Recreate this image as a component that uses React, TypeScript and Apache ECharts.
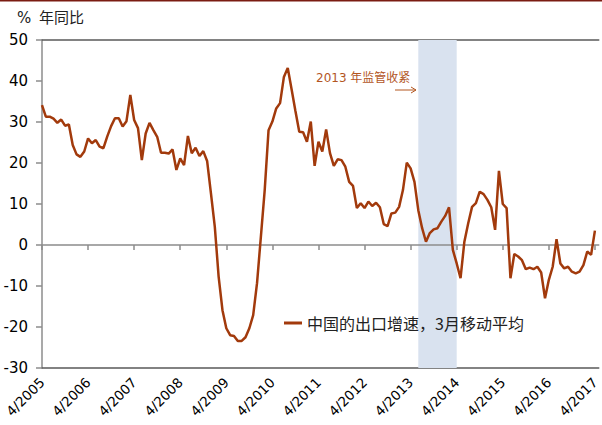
import React, { useEffect, useRef } from "react";
import * as echarts from "echarts";

// Monthly categories from 4/2005 to 5/2017 (axis runs slightly past 4/2017)
const START_YEAR = 2005;
const START_MONTH = 4;
const MONTH_COUNT = 146;
const months: string[] = [];
for (let k = 0; k < MONTH_COUNT; k++) {
  const m = ((START_MONTH - 1 + k) % 12) + 1;
  const y = START_YEAR + Math.floor((START_MONTH - 1 + k) / 12);
  months.push(`${m}/${y}`);
}

const seriesName = "中国的出口增速，3月移动平均";

// China export growth, % y/y, 3-month moving average (4/2005 .. 4/2017)
const exportGrowth: number[] = [
  34.1, 31.3, 31.3, 30.8, 29.8, 30.6, 29.1, 29.4, 24.4, 22.1, 21.5, 22.8,
  26.0, 24.8, 25.6, 24.0, 23.6, 26.5, 29.0, 30.9, 30.9, 28.9, 30.2, 36.6,
  30.5, 28.5, 20.7, 27.2, 29.8, 28.0, 26.4, 22.5, 22.5, 22.3, 23.3, 18.3,
  21.1, 19.5, 26.6, 22.4, 23.7, 21.7, 22.9, 20.5, 12.6, 4.5, -7.7, -15.9,
  -20.3, -22.0, -22.2, -23.4, -23.4, -22.5, -20.3, -17.1, -9.3, 2.0, 13.4, 28.0,
  30.1, 33.3, 34.6, 41.0, 43.2, 38.0, 32.7, 27.6, 27.5, 25.2, 30.1, 19.3,
  25.2, 22.8, 28.2, 22.4, 19.3, 20.9, 20.7, 19.1, 15.4, 14.4, 9.0, 10.2,
  9.0, 10.6, 9.5, 10.3, 9.2, 5.1, 4.6, 7.7, 7.9, 9.3, 13.4, 20.1,
  18.7, 15.4, 8.5, 4.1, 0.8, 2.9, 3.8, 4.1, 5.7, 7.1, 9.2, -1.2,
  -4.5, -8.1, 0.8, 5.3, 9.3, 10.2, 13.0, 12.4, 11.0, 9.2, 3.7, 18.1,
  10.0, 9.0, -8.1, -2.2, -2.8, -3.7, -5.9, -5.5, -5.9, -5.3, -6.7, -13.0,
  -8.5, -5.3, 1.4, -4.5, -5.7, -5.3, -6.5, -6.9, -6.5, -4.9, -1.6, -2.4, 3.5,
];

const Y_MIN = -30;
const Y_MAX = 50;
const Y_INTERVAL = 10;

// Shaded period: 2013 regulatory tightening
const bandStart = "6/2013";
const bandEnd = "4/2014";
const annotation = "2013 年监管收紧";
const unitLabel = "%";
const unitLabelCn = "年同比";

const LINE_COLOR = "#A23A0C";
const NOTE_COLOR = "#B3561F";
const AXIS_GRAY = "#8c8c8c";
const BORDER_GRAY = "#5a5a5a";

export default function App() {
  const ref = useRef<HTMLDivElement>(null);

  useEffect(() => {
    if (!ref.current) return;
    const chart = echarts.init(ref.current, undefined, { renderer: "svg" });
    const catAxisBase = {
      type: "category" as const,
      data: months,
      boundaryGap: false,
      splitLine: { show: false },
    };
    chart.setOption({
      animation: false,
      backgroundColor: "#ffffff",
      grid: { left: 42, right: 3, top: 40, bottom: 57, containLabel: false },
      legend: {
        left: 284,
        top: 315,
        padding: 0,
        icon: "rect",
        itemWidth: 18,
        itemHeight: 3,
        data: [seriesName],
        textStyle: {
          fontSize: 16,
          color: "#222",
          fontFamily: "Noto Sans CJK SC",
        },
      },
      xAxis: [
        {
          ...catAxisBase,
          position: "bottom",
          z: 1,
          axisLine: { onZero: true, lineStyle: { color: AXIS_GRAY, width: 1.5 } },
          axisTick: {
            show: true,
            interval: 11,
            length: 5,
            lineStyle: { color: AXIS_GRAY, width: 1.5 },
          },
          axisLabel: { show: false },
        },
        {
          ...catAxisBase,
          position: "bottom",
          axisLine: { onZero: false, lineStyle: { color: BORDER_GRAY, width: 1.5 } },
          axisTick: { show: false },
          axisLabel: {
            interval: 11,
            rotate: 45,
            margin: 12,
            fontSize: 13.5,
            color: "#000",
            fontFamily: "DejaVu Sans",
          },
        },
        {
          ...catAxisBase,
          position: "top",
          axisLine: { onZero: false, lineStyle: { color: BORDER_GRAY, width: 1.5 } },
          axisTick: { show: false },
          axisLabel: { show: false },
        },
      ],
      yAxis: {
        type: "value",
        min: Y_MIN,
        max: Y_MAX,
        interval: Y_INTERVAL,
        axisLine: { show: true, onZero: false, lineStyle: { color: AXIS_GRAY, width: 1.5 } },
        axisTick: { show: true, length: 6, lineStyle: { color: AXIS_GRAY, width: 1.5 } },
        axisLabel: {
          fontSize: 15,
          color: "#000",
          margin: 14,
          fontFamily: "DejaVu Sans",
        },
        splitLine: { show: false },
      },
      series: [
        {
          type: "line",
          name: seriesName,
          data: exportGrowth,
          xAxisIndex: 0,
          yAxisIndex: 0,
          symbol: "none",
          showSymbol: false,
          z: 2,
          lineStyle: { color: LINE_COLOR, width: 2.5 },
          itemStyle: { color: LINE_COLOR },
          markArea: {
            silent: true,
            z: 0.5,
            itemStyle: { color: "#D9E2EF" },
            data: [[{ xAxis: bandStart }, { xAxis: bandEnd }]],
          },
        },
      ],
      graphic: [
        {
          type: "rect",
          left: 0,
          top: 0,
          shape: { width: 602, height: 1.5 },
          style: { fill: "#7b1c12" },
        },
        {
          type: "text",
          left: 17,
          top: 10,
          style: { text: unitLabel, fontSize: 15, fill: "#222", fontFamily: "DejaVu Sans" },
        },
        {
          type: "text",
          left: 39,
          top: 9,
          style: { text: unitLabelCn, fontSize: 15, fill: "#222", fontFamily: "Noto Sans CJK SC" },
        },
        {
          type: "text",
          left: 316,
          top: 72,
          style: {
            text: annotation,
            fontSize: 12,
            fill: NOTE_COLOR,
            fontFamily: "DejaVu Sans, Noto Sans CJK SC",
          },
        },
        {
          type: "line",
          shape: { x1: 395, y1: 90, x2: 416, y2: 90 },
          style: { stroke: NOTE_COLOR, lineWidth: 1 },
        },
        {
          type: "polyline",
          shape: { points: [[411, 87], [416, 90], [411, 93]] },
          style: { stroke: NOTE_COLOR, fill: null, lineWidth: 1 },
        },
      ],
    });
    return () => chart.dispose();
  }, []);

  return (
    <div
      ref={ref}
      style={{ position: "fixed", left: 0, top: 0, width: 602, height: 425 }}
    />
  );
}
